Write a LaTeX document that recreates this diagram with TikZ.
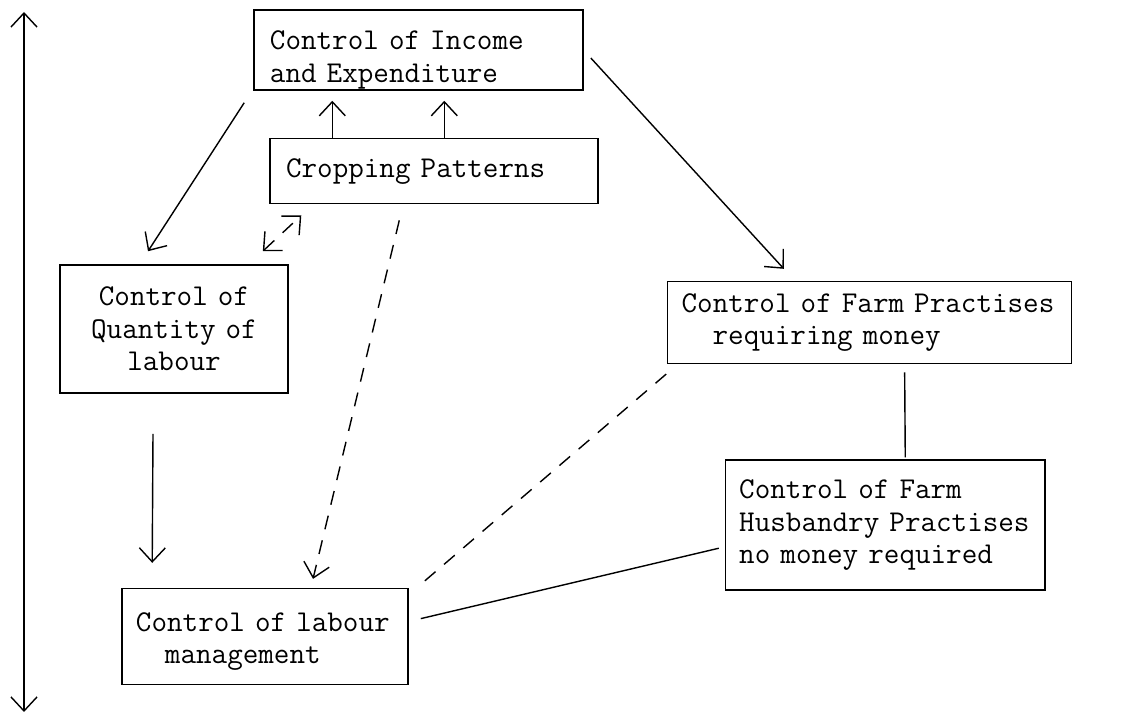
\documentclass[tikz,border=0pt]{standalone}
\usepackage{tikz}
\usetikzlibrary{calc, positioning, arrows.meta}

\newcommand{\boxfont}{\ttfamily\fontsize{21.5}{23}\selectfont}
\tikzset{
  ctrl/.style={rectangle, draw, line width=1.1pt, font=\boxfont, align=left, inner xsep=0.4cm, inner ysep=0.15cm},
  link/.style={line width=1pt},
  dashlink/.style={line width=1pt, dash pattern=on 10pt off 8pt}
}

\begin{document}
\begin{tikzpicture}[x=0.025cm, y=-0.025cm, >={Straight Barb[length=0.35cm,width=0.65cm]}]
        \useasboundingbox (0,0) rectangle (1126,720);

        \node[ctrl, minimum width=8.225cm, minimum height=2cm, text width=7.425cm, text height=0.85cm, text depth=0.85cm](income) at (418.5,50) {Control of Income\\and Expenditure};
        \node[ctrl, minimum width=8.2cm, minimum height=1.625cm, text width=7.4cm](crop)[below=1.175cm of income, xshift=0.39cm]{Cropping Patterns};
        \node[ctrl, align=center, inner xsep=0.35cm, minimum width=5.7cm, minimum height=3.2cm, text width=5cm](qty) at (174,329) {Control of\\Quantity of\\labour};
        \node[ctrl, inner xsep=0.35cm, minimum width=10.1cm, minimum height=2.05cm, text width=9.4cm](farm)[below right=4.75cm and 2.075cm of income]{Control of Farm Practises\\\hspace*{0.775cm}requiring money};
        \node[ctrl, inner xsep=0.34cm, minimum width=7.975cm, minimum height=3.25cm, text width=7.3cm](husb)[below=2.375cm of farm, xshift=0.39cm]{Control of Farm\\Husbandry Practises\\no money required};
        \node[ctrl, inner xsep=0.35cm, minimum width=7.15cm, minimum height=2.4cm, text width=6.45cm, text height=0.925cm, text depth=1.175cm](labour)[below=4.85cm of qty, xshift=2.275cm]{Control of labour\\\hspace*{0.725cm}management};

        % long scale arrow on the left
        \coordinate (axtop) at (24,12);
        \coordinate (axbot) at (24,712);
        \draw[link, <->] (axbot) -- (axtop);

        % cropping feeds income
        \path ($(crop.north west)+(63,0)$) coordinate (up1) ($(crop.north west)+(175,0)$) coordinate (up2);
        \draw[link, ->] (up1) -- ($(up1 |- income.south)+(0,10)$);
        \draw[link, ->] (up2) -- ($(up2 |- income.south)+(0,10)$);

        \draw[link, ->] ($(income.south west)+(-9,12)$) -- ($(qty.north)+(-26,-13)$);
        \draw[link, ->] ($(income.east)+(7,8)$) -- ($(farm.north west)+(117,-12)$);
        \draw[dashlink, <->] ($(qty.north east)+(-26,-13)$) -- ($(crop.south west)+(32,11)$);
        \draw[dashlink, ->] ($(crop.south west)+(130,16)$) -- ($(labour.north)+(48,-9)$);
        \draw[link, ->] ($(qty.south)+(-21,40)$) -- ($(labour.north west)+(31,-25)$);
        \draw[link] ($(farm.south)+(35,8)$) -- ($(husb.north)+(20,-2)$);
        \draw[dashlink] ($(labour.north east)+(16,-7)$) -- ($(farm.south west)+(6,4)$);
        \draw[link] ($(labour.east)+(12,-18)$) -- ($(husb.west)+(-6,23)$);
    \end{tikzpicture}
\end{document}
